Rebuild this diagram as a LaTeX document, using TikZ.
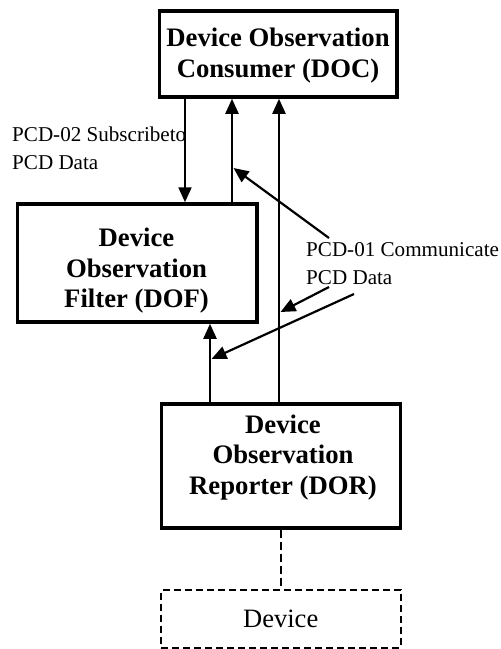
\documentclass[tikz,border=0pt]{standalone}
\usepackage{fontspec}
\setmainfont{Liberation Serif}
\usetikzlibrary{arrows.meta}
\begin{document}
\begin{tikzpicture}[x=1pt,y=-1pt,
  box/.style={draw, line width=3.5pt, inner sep=0pt},
  dashbox/.style={draw, line width=2pt, dash pattern=on 7pt off 4pt, inner sep=0pt,
    font=\fontsize{26.5}{30}\selectfont},
  flow/.style={line width=2.2pt, -{Triangle[length=15pt,width=13pt]}},
  link/.style={line width=2pt, dash pattern=on 8pt off 4pt},
  title/.style={inner sep=0pt, anchor=base, font=\bfseries\fontsize{26.7}{30.5}\selectfont},
  note/.style={inner sep=0pt, anchor=base west, font=\fontsize{21.1}{27.5}\selectfont}]
\useasboundingbox (0,0) rectangle (501,649);

% boxes
\node[box, minimum width=237.5pt, minimum height=86pt]  (DOC) at (278.25,54) {};
\node[box, minimum width=239.5pt, minimum height=118pt] (DOF) at (137.25,263) {};
\node[box, minimum width=239pt,   minimum height=124pt] (DOR) at (280.75,466) {};
\node[dashbox, minimum width=239.5pt, minimum height=57.5pt] (DEV) at (280.75,618.75) {Device};

% box titles (first baseline at the node position)
\node[title] (DOCt) at (278,46.7)
  {\begin{tabular}[t]{@{}c@{}}Device Observation\\Consumer (DOC)\end{tabular}};
\node[title] (DOFt) at (136.5,246.7)
  {\begin{tabular}[t]{@{}c@{}}Device\\Observation\\Filter (DOF)\end{tabular}};
\node[title] (DORt) at (283,433)
  {\begin{tabular}[t]{@{}c@{}}Device\\Observation\\Reporter (DOR)\end{tabular}};

% transaction labels
\node[note] (sub) at (12,141.7)
  {\begin{tabular}[t]{@{}l@{}}PCD-02 Subscribeto\\PCD Data\end{tabular}};
\node[note] (com) at (306,256.7)
  {\begin{tabular}[t]{@{}l@{}}PCD-01 Communicate\\PCD Data\end{tabular}};

% data flows
\draw[flow] (185,0 |- DOC.south) -- (185,0 |- DOF.north);
\draw[flow] (232,0 |- DOF.north) -- (232,0 |- DOC.south);
\draw[flow] (279,0 |- DOR.north) -- (279,0 |- DOC.south);
\draw[flow] (210,0 |- DOR.north) -- (210,0 |- DOF.south);
\draw[link] (281,0 |- DOR.south) -- (281,0 |- DEV.north);

% pointers from the PCD-01 label to the flows
\coordinate (p1) at (329,238);
\coordinate (p2) at (329,287);
\coordinate (p3) at (354,294);
\coordinate (t1) at (233.5,168);
\coordinate (t2) at (280.5,312);
\coordinate (t3) at (211.5,359);
\draw[flow] (p1) -- (t1);
\draw[flow] (p2) -- (t2);
\draw[flow] (p3) -- (t3);
\end{tikzpicture}
\end{document}
